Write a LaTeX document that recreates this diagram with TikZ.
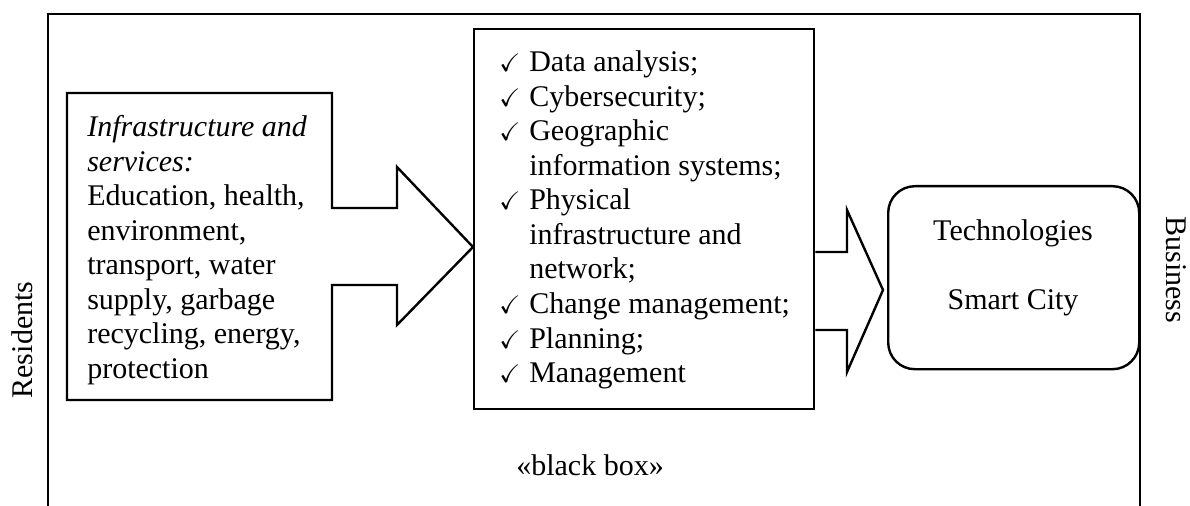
\documentclass[tikz,border=0pt]{standalone}
\usepackage{amssymb}
\usepackage{fontspec}
\setmainfont{Liberation Serif}
\begin{document}
\begin{tikzpicture}[x=0.75pt,y=-0.75pt,
  frame/.style={line width=1.1pt},
  outl/.style={line width=1.8pt, line join=miter},
  txt/.style={font=\fontsize{22.5}{25.9}\selectfont, inner sep=0pt, align=left},
  lbl/.style={font=\fontsize{22.5}{25.9}\selectfont, inner sep=0pt}]
\useasboundingbox (0,0) rectangle (1190,506);
% outer frame (open at bottom)
\draw[frame] (48,506) -- (48,14) -- (1140,14) -- (1140,506);
% side labels
\node[lbl, rotate=90] (res) at (22,340) {Residents};
\node[lbl, rotate=-90] (bus) at (1176,270) {Business};
% left box with arrow
\draw[outl] (67,93) -- (332,93) -- (332,208) -- (397,208) -- (397,167) -- (473,247)
  -- (397,325) -- (397,285) -- (332,285) -- (332,400) -- (67,400) -- cycle;
\node[txt, anchor=west] (infra) at (87,250) {\textit{Infrastructure and}\\\textit{services:}\\Education, health,\\environment,\\transport, water\\supply, garbage\\recycling, energy,\\protection};
% middle box
\node[draw, outl, minimum width=340*0.75pt, minimum height=380*0.75pt, anchor=north west] (mid) at (473,28) {};
\newcommand{\ck}{\makebox[22.5pt][l]{\fontsize{19}{19}\selectfont$\checkmark$}}
\newcommand{\ind}{\hspace*{22.5pt}}
\node[txt, anchor=west] (list) at (499,220) {\ck Data analysis;\\\ck Cybersecurity;\\\ck Geographic\\\ind information systems;\\\ck Physical\\\ind infrastructure and\\\ind network;\\\ck Change management;\\\ck Planning;\\\ck Management};
% second arrow
\draw[outl] (mid.east |- 0,252) -- (847,252) -- (847,210) -- (883,290) -- (847,372) -- (847,330) -- (mid.east |- 0,330);
% rounded box
\node[draw, outl, rounded corners=20pt, minimum width=251*0.75pt, minimum height=183*0.75pt, anchor=north west] (tech) at (887,185) {};
\node[lbl] (t1) at (1013,233) {Technologies};
\node[lbl] (t2) at (1013,303) {Smart City};
% bottom label
\node[lbl] (bb) at (590,465) {«black box»};
\end{tikzpicture}
\end{document}
